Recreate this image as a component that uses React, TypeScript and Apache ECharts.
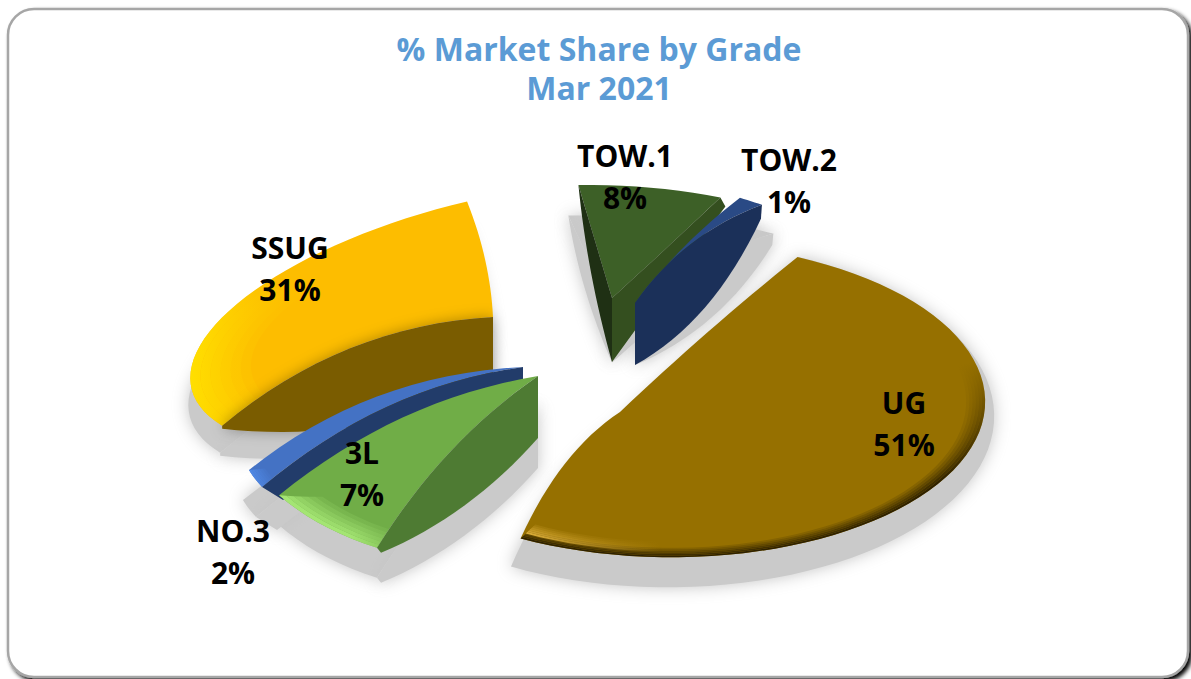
import React, { useEffect, useRef } from "react";
import * as echarts from "echarts";

const titleLines = ["% Market Share by Grade", "Mar 2021"];
const categories = ["TOW.1", "TOW.2", "UG", "3L", "NO.3", "SSUG"];
const shares = [8, 1, 51, 7, 2, 31];
const firstSliceAngle = -15;

type Pt = [number, number];
type Rim = { from: number; to: number; dir: number[]; trim?: number; stops: [number, string, number][] };
type Wall = { edge: number; h: number; shift: Pt; bow: Pt; fill: string; glow?: boolean };
type Shadow = { dx: number; dy: number; sx: number; sy: number; pivot: Pt };
type Camera = {
  origin: Pt; apex: Pt; u: Pt; v: Pt; edgeBow: [Pt, Pt]; top: string; z2: number;
  walls: Wall[]; rims: Rim[]; shadow: Shadow; label: Pt;
};

const cameras: Camera[] = [
  {
    origin: [612, 298], apex: [612, 298], u: [285, 26], v: [41.6, -110], edgeBow: [[0, 0], [-3, 4]], top: "#3d6027", z2: 40,
    walls: [
      { edge: 0, h: 64, shift: [0, 0], bow: [-8, 0], fill: "#1f3014" },
      { edge: 1, h: 64, shift: [5, 9], bow: [0, 0], fill: "#344f1f" },
    ],
    rims: [], shadow: { dx: 0, dy: 0, sx: 1.3, sy: 0.83, pivot: [612, 365] }, label: [625, 176],
  },
  {
    origin: [635, 303], apex: [635, 303], u: [368, 80], v: [17.7, -128], edgeBow: [[-6, -8], [-15, -20]], top: "#2a4a85", z2: 50,
    walls: [{ edge: 1, h: 62, shift: [-1, 14], bow: [15, 30], fill: "#1b3059" }],
    rims: [], shadow: { dx: 0, dy: 0, sx: 1.09, sy: 0.82, pivot: [635, 365] }, label: [789, 180],
  },
  {
    origin: [668, 400], apex: [620, 412], u: [315, 20], v: [37, -156], edgeBow: [[-3, -4], [-10, -24]], top: "#967000", z2: 60,
    walls: [],
    rims: [
      { from: 1, to: 0.94, dir: [0, 0, 0, 1], stops: [[0, "#2e2100", 0], [0.35, "#2e2100", 0], [0.75, "#2e2100", 1], [1, "#2e2100", 1]] },
      { from: 0.965, to: 0.9, dir: [0, 0, 1, 0], stops: [[0, "#dcae38", 1], [0.3, "#dcae38", 0], [1, "#dcae38", 0]] },
    ],
    shadow: { dx: 0, dy: 0, sx: 1.04, sy: 1.1, pivot: [760, 257] }, label: [904, 423],
  },
  {
    origin: [538, 376], apex: [538, 376], u: [306, 18], v: [55, -191], edgeBow: [[-15, -20], [-12, -36]], top: "#70ad47", z2: 30,
    walls: [{ edge: 0, h: 62, shift: [4, 5], bow: [10, 20], fill: "#4e7b33" }],
    rims: [{ from: 1, to: 0.9, dir: [0, 0, 1, 0], trim: 60, stops: [[0, "#a4e573", 1], [0.7, "#a4e573", 1], [1, "#a4e573", 0.6]] }],
    shadow: { dx: 0, dy: 30, sx: 1, sy: 1, pivot: [538, 376] }, label: [362, 473],
  },
  {
    origin: [523, 367], apex: [523, 367], u: [271.8, 2], v: [93.6, -175.5], edgeBow: [[-12, -40], [-18, -44]], top: "#4472c4", z2: 20,
    walls: [{ edge: 0, h: 13, shift: [21, 13], bow: [-12, -30], fill: "#223c6a" }],
    rims: [{ from: 1, to: 0.95, dir: [0, 0, 1, 0], trim: 30, stops: [[0, "#5089e6", 1], [1, "#5089e6", 0.6]] }],
    shadow: { dx: -6, dy: 30, sx: 1, sy: 1, pivot: [523, 367] }, label: [233, 551],
  },
  {
    origin: [493, 317], apex: [493, 317], u: [298, -38.8], v: [53, -130], edgeBow: [[-15, -46], [10, 0]], top: "#fdbd00", z2: 10,
    walls: [{ edge: 0, h: 80, shift: [0, 3], bow: [-20, 30], fill: "#7a5b00", glow: true }],
    rims: [{ from: 1, to: 0.8, dir: [0, 0, 1, 0], stops: [[0, "#ffdf00", 1], [0.3, "#ffdf00", 0], [1, "#ffdf00", 0]] }],
    shadow: { dx: -2, dy: 27, sx: 1, sy: 1, pivot: [493, 317] }, label: [290, 268],
  },
];

const total = shares.reduce((a, b) => a + b, 0);
const sliceStart: number[] = [];
shares.reduce((acc, s, i) => {
  sliceStart[i] = acc;
  return acc + (s / total) * 360;
}, firstSliceAngle);

const rad = (d: number) => (d * Math.PI) / 180;
const rgba = (hex: string, a: number) => {
  const n = parseInt(hex.slice(1), 16);
  return `rgba(${(n >> 16) & 255},${(n >> 8) & 255},${n & 255},${a})`;
};

function arcPoint(c: Camera, deg: number, s: number): Pt {
  const a = rad(deg);
  return [
    c.origin[0] + s * (Math.sin(a) * c.u[0] + Math.cos(a) * c.v[0]),
    c.origin[1] + s * (Math.sin(a) * c.u[1] + Math.cos(a) * c.v[1]),
  ];
}
function arcPoints(c: Camera, a0: number, a1: number, s: number): Pt[] {
  const n = Math.max(6, Math.ceil(Math.abs(a1 - a0) / 3));
  return Array.from({ length: n + 1 }, (_, i) => arcPoint(c, a0 + ((a1 - a0) * i) / n, s));
}
function quad(p0: Pt, p1: Pt, bow: Pt): Pt[] {
  const cx = (p0[0] + p1[0]) / 2 + bow[0];
  const cy = (p0[1] + p1[1]) / 2 + bow[1];
  return Array.from({ length: 17 }, (_, i) => {
    const t = i / 16;
    const m = 1 - t;
    return [m * m * p0[0] + 2 * m * t * cx + t * t * p1[0], m * m * p0[1] + 2 * m * t * cy + t * t * p1[1]] as Pt;
  });
}

function renderSlice(params: any, api: any) {
  const i = params.dataIndex;
  const c = cameras[i];
  const value = api.value(0) as number;
  const a0 = sliceStart[i];
  const a1 = a0 + (value / total) * 360;
  const ends: Pt[] = [arcPoint(c, a0, 1), arcPoint(c, a1, 1)];
  const edge0 = quad(c.apex, ends[0], c.edgeBow[0]);
  const edge1 = quad(c.apex, ends[1], c.edgeBow[1]);
  const topPoly: Pt[] = [...edge0, ...arcPoints(c, a0, a1, 1), ...edge1.slice().reverse()];

  const wallPolys = c.walls.map((w) => {
    const e = ends[w.edge];
    const top = w.edge === 0 ? edge0 : edge1;
    const bottom = quad([c.apex[0], c.apex[1] + w.h], [e[0] + w.shift[0], e[1] + w.shift[1]], w.bow);
    return { wall: w, points: [...top, ...bottom.slice().reverse()] as Pt[] };
  });

  const { dx, dy, sx, sy, pivot } = c.shadow;
  const shadowOf = (pts: Pt[]): Pt[] =>
    pts.map(([x, y]) => [pivot[0] + (x - pivot[0]) * sx + dx, pivot[1] + (y - pivot[1]) * sy + dy]);
  const shadowStyle = { fill: "#cacaca", shadowBlur: 16, shadowColor: "#c4c4c4" };

  const children: any[] = [];
  [topPoly, ...wallPolys.map((w) => w.points)].forEach((pts) => {
    children.push({ type: "polygon", z2: 1, silent: true, shape: { points: shadowOf(pts) }, style: shadowStyle });
  });
  wallPolys.forEach(({ wall, points }) => {
    children.push({
      type: "polygon", z2: c.z2 + 5, silent: true, shape: { points },
      style: wall.glow
        ? { fill: wall.fill, shadowBlur: 14, shadowColor: "rgba(0,0,0,0.3)" }
        : { fill: wall.fill },
    });
  });
  children.push({ type: "polygon", z2: c.z2 + 1, silent: true, shape: { points: topPoly }, style: { fill: c.top } });

  c.rims.forEach((rim, r) => {
    const layers = 6;
    const trim = rim.trim || 0;
    for (let k = 0; k < layers; k++) {
      const sa = rim.from + ((rim.to - rim.from) * k) / layers;
      const sb = rim.from + ((rim.to - rim.from) * (k + 1)) / layers;
      const strength = 1 - k / layers;
      const stops = rim.stops.map(([offset, color, alpha]) => ({ offset, color: rgba(color, alpha * strength) }));
      const outer = arcPoints(c, a0, a1 - trim * (1 - sa), sa);
      const inner = arcPoints(c, a0, a1 - trim * (1 - sb), sb).reverse();
      children.push({
        type: "polygon", z2: c.z2 + 2 + r, silent: true,
        shape: { points: [...outer, ...inner] },
        style: { fill: new echarts.graphic.LinearGradient(rim.dir[0], rim.dir[1], rim.dir[2], rim.dir[3], stops) },
      });
    }
  });

  children.push({
    type: "text", z2: 100, silent: true,
    x: c.label[0], y: c.label[1],
    style: {
      text: `${categories[i]}\n${Math.round((value / total) * 100)}%`,
      fill: "#000", font: 'bold 30px "Open Sans"', lineHeight: 42,
      align: "center", verticalAlign: "middle",
    },
  });
  return { type: "group", children };
}

export default function App() {
  const ref = useRef<HTMLDivElement>(null);
  useEffect(() => {
    const chart = echarts.init(ref.current!, null, { renderer: "svg" });
    chart.setOption({
      animation: false,
      backgroundColor: "#ffffff",
      title: {
        text: titleLines.join("\n"),
        left: 594,
        top: 24,
        textAlign: "center",
        textStyle: { color: "#5b9bd5", fontFamily: "Open Sans", fontWeight: "bold", fontSize: 32, lineHeight: 39 },
      },
      graphic: [
        {
          type: "rect", z: -1, silent: true,
          shape: { x: 8, y: 9, width: 1180, height: 668, r: 26 },
          style: { fill: "#fff", stroke: "#a6a6a6", lineWidth: 2.5, shadowBlur: 4, shadowOffsetX: 3, shadowOffsetY: 3, shadowColor: "#000" },
        },
      ],
      series: [
        {
          type: "custom",
          coordinateSystem: "none",
          renderItem: renderSlice,
          data: categories.map((name, i) => ({ name, value: [shares[i]] })),
          silent: true,
        },
      ],
    });
    return () => chart.dispose();
  }, []);
  return <div ref={ref} style={{ position: "fixed", left: 0, top: 0, width: 1191, height: 679 }} />;
}
